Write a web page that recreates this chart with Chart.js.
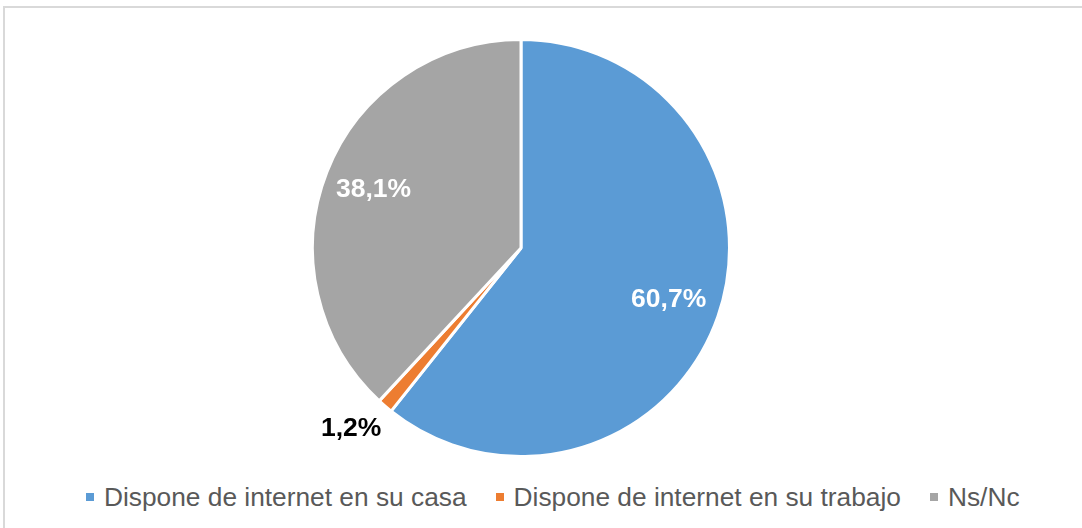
<!DOCTYPE html>
<html>
<head>
<meta charset="utf-8">
<script src="https://cdn.jsdelivr.net/npm/chart.js@4"></script>
<style>
  html, body { margin: 0; padding: 0; background: #fff; }
  #frame { position: absolute; left: 3px; top: 6px; width: 1100px; height: 540px; border-left: 2px solid #d9d9d9; border-top: 2px solid #d9d9d9; }
  #wrap { position: absolute; left: 0; top: 0; width: 1082px; height: 470px; }
  #legend { position: absolute; left: 86px; top: 482px; display: flex; align-items: center; font-family: Arial, "Liberation Sans", sans-serif; font-size: 26.3px; line-height: 30px; color: #595959; white-space: nowrap; }
  #legend .item { display: flex; align-items: center; margin-right: 29px; }
  #legend .box { width: 8px; height: 8px; margin-right: 10px; }
</style>
</head>
<body>
<div id="frame"></div>
<div id="wrap"><canvas id="pieChart"></canvas></div>
<div id="legend"></div>
<script>
const categories = ["Dispone de internet en su casa", "Dispone de internet en su trabajo", "Ns/Nc"];
const values = [60.7, 1.2, 38.1];
const colors = ["#5B9BD5", "#ED7D31", "#A5A5A5"];
const labelColors = ["#ffffff", "#000000", "#ffffff"];
const labelRadius = [0.75, 1.19, 0.76];
const labelNudge = [0, 2.5, 0]; // degrees

const fmt = (v) => v.toFixed(1).replace(".", ",") + "%";

const pieLabels = {
  id: "pieLabels",
  afterDatasetsDraw(chart) {
    const ctx = chart.ctx;
    const meta = chart.getDatasetMeta(0);
    ctx.save();
    ctx.font = "bold 26.5px Arial, 'Liberation Sans', sans-serif";
    ctx.textAlign = "center";
    ctx.textBaseline = "middle";
    meta.data.forEach((arc, i) => {
      const p = arc.getProps(["x", "y", "startAngle", "endAngle", "outerRadius"], true);
      const mid = (p.startAngle + p.endAngle) / 2 + labelNudge[i] * Math.PI / 180;
      const r = p.outerRadius * labelRadius[i];
      ctx.fillStyle = labelColors[i];
      ctx.fillText(fmt(values[i]), p.x + Math.cos(mid) * r, p.y + Math.sin(mid) * r);
    });
    ctx.restore();
  },
};

new Chart(document.getElementById("pieChart"), {
  type: "pie",
  data: {
    labels: categories,
    datasets: [
      {
        data: values,
        backgroundColor: colors,
        borderColor: "#ffffff",
        borderWidth: 3,
      },
    ],
  },
  options: {
    responsive: true,
    maintainAspectRatio: false,
    animation: false,
    layout: { padding: { top: 38, bottom: 12, left: 0, right: 40 } },
    plugins: {
      legend: { display: false },
      tooltip: { enabled: false },
    },
  },
  plugins: [pieLabels],
});

const legend = document.getElementById("legend");
categories.forEach((name, i) => {
  const item = document.createElement("div");
  item.className = "item";
  const box = document.createElement("span");
  box.className = "box";
  box.style.background = colors[i];
  const text = document.createElement("span");
  text.textContent = name;
  item.appendChild(box);
  item.appendChild(text);
  legend.appendChild(item);
});
</script>
</body>
</html>
